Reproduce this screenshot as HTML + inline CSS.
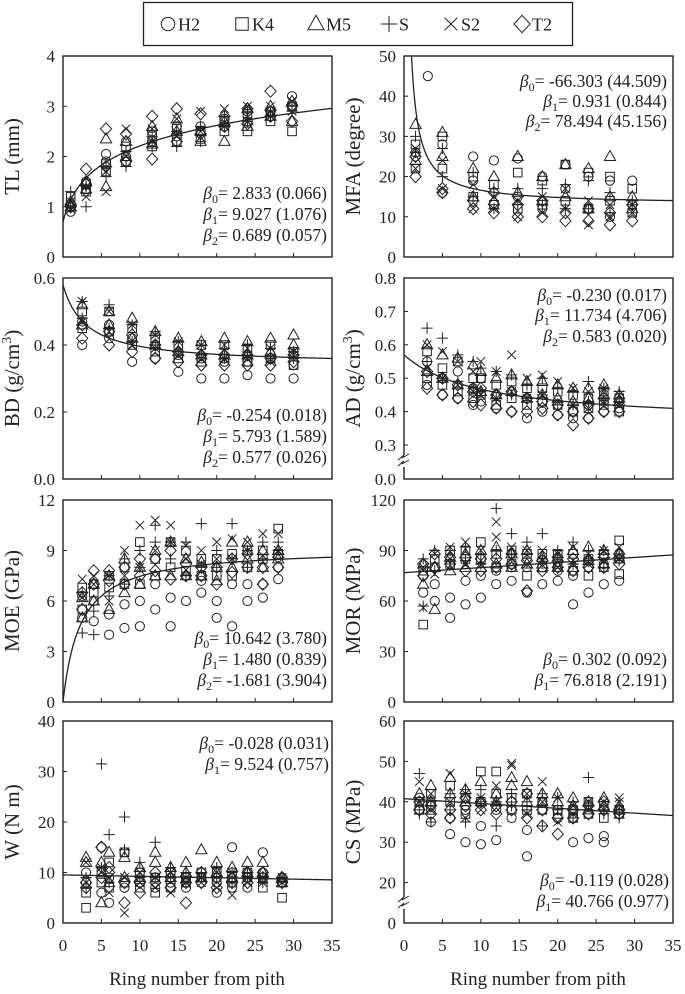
<!DOCTYPE html>
<html><head><meta charset="utf-8">
<style>
html,body{margin:0;padding:0;background:#fff;}
svg{display:block;}
svg, svg text, svg tspan{font-family:"Liberation Serif","DejaVu Serif","Times New Roman",serif;}
</style></head>
<body>
<svg id="fig" width="685" height="994" viewBox="0 0 685 994" xmlns="http://www.w3.org/2000/svg" font-family="'Liberation Serif', 'DejaVu Serif', serif">
<g id="legend">
  <rect x="143.5" y="2.5" width="429" height="43" fill="#fff" stroke="#222" stroke-width="1.3"/>
</g>
</svg>
<script>
// ---------- DATA ----------
const seriesNames = ["H2","K4","M5","S","S2","T2"];
const seriesMarkers = ["circle","square","triangle","plus","cross","diamond"];

const tlX = [1,3,5.6,8.2,11.6,14.8,17.9,21,24,27,29.8];
const tlH2 = [[0.9,1.05],[1.35,1.5],[1.9,2.05],[2.0,2.3],[2.3,2.5],[2.4,2.6],[2.5,2.6],[2.6,2.75],[2.7,2.9],[2.8,2.9],[3.0,3.2]];
const tlK4 = [[1.0,1.2],[1.3,1.45],[1.7,1.85],[1.9,2.2],[2.2,2.4],[2.3,2.55],[2.35,2.5],[2.5,2.7],[2.5,2.85],[2.7,2.9],[2.5,3.0]];
const tlM5 = [[1.0,1.1],[1.35,1.5],[1.4,2.35],[2.0,2.3],[2.25,2.6],[2.5,2.75],[2.3,2.5],[2.3,2.7],[2.6,2.95],[2.8,3.0],[2.7,3.1]];
const tlS  = [[1.0,1.3],[1.0,1.4],[1.6,1.8],[1.8,2.1],[2.2,2.4],[2.2,2.5],[2.3,2.6],[2.6,2.8],[2.7,2.9],[2.8,2.9],[2.9,3.0]];
const tlS2 = [[0.95,1.1],[1.2,1.4],[1.3,1.7],[2.0,2.55],[2.3,2.55],[2.4,2.75],[2.5,2.9],[2.6,2.95],[2.7,3.0],[2.8,3.0],[2.9,3.1]];
const tlT2 = [[1.0,1.05],[1.45,1.75],[1.8,2.55],[1.9,2.45],[1.95,2.8],[2.3,2.95],[2.45,2.85],[2.6,2.8],[2.65,2.95],[2.8,3.3],[2.7,3.0]];
const tlTicks = [0,1,2,3,4];

const mfaX = [1.5,5,9,11.7,14.8,18,21,24,26.8,29.7];
const mfaH2 = [[25,26],[16,28],[19,25],[13,24],[15,24.5],[12,20],[17,23],[12,20],[10,19],[13,19]];
const mfaK4 = [[28,22],[22,30],[15,20],[13,18],[12,21],[13,19],[14,23],[12,21],[14,20],[11,17]];
const mfaM5 = [[33,24],[25,31],[15,22],[14,20],[16,25],[14,20],[15,23],[12,22],[15,25],[12,15]];
const mfaS  = [[30,26],[20,27],[15,21],[12,17],[13,17],[13,17],[12,18],[12,19],[11,16],[13,14]];
const mfaS2 = [[22,27],[17,24],[12,18],[12,15],[10,14],[11,15],[12,17],[8,14],[10,13],[11,13]];
const mfaT2 = [[20,25],[16,17],[12,14],[11,16],[10,13],[10,14],[9,11],[9,12],[8,11],[9,13]];
const mfaOutlierX = [3.1];
const mfaOutlierY = [45];
const mfaTicks = [0,10,20,30,40,50];

const bdX = [2.5,6,9,12,15,18,21,24,27,30];
const bdH2 = [[0.40,0.47],[0.42,0.46],[0.35,0.42],[0.36,0.40],[0.32,0.37],[0.30,0.36],[0.30,0.35],[0.31,0.35],[0.30,0.36],[0.30,0.34]];
const bdK4 = [[0.45,0.50],[0.44,0.50],[0.40,0.45],[0.38,0.42],[0.36,0.40],[0.35,0.40],[0.36,0.40],[0.35,0.39],[0.36,0.40],[0.34,0.38]];
const bdM5 = [[0.46,0.52],[0.46,0.50],[0.42,0.48],[0.40,0.44],[0.38,0.42],[0.37,0.41],[0.37,0.42],[0.37,0.41],[0.38,0.42],[0.40,0.43]];
const bdS  = [[0.48,0.53],[0.45,0.52],[0.41,0.46],[0.40,0.44],[0.38,0.41],[0.37,0.40],[0.36,0.39],[0.37,0.40],[0.36,0.39],[0.36,0.38]];
const bdS2 = [[0.47,0.53],[0.44,0.50],[0.40,0.46],[0.39,0.43],[0.37,0.41],[0.36,0.40],[0.36,0.40],[0.36,0.39],[0.35,0.39],[0.37,0.38]];
const bdT2 = [[0.42,0.46],[0.40,0.44],[0.38,0.43],[0.36,0.40],[0.35,0.38],[0.34,0.37],[0.34,0.37],[0.34,0.37],[0.34,0.36],[0.35,0.37]];
const bdTicks = [0.0,0.2,0.4,0.6];

const adX = [3,5,7,9,10,12,14,16,18,20,22,24,26,28];
const adH2 = [[0.48,0.55],[0.45,0.50],[0.44,0.52],[0.42,0.47],[0.43,0.50],[0.41,0.45],[0.40,0.46],[0.38,0.44],[0.40,0.43],[0.39,0.42],[0.38,0.40],[0.38,0.42],[0.40,0.43],[0.41,0.44]];
const adK4 = [[0.50,0.58],[0.48,0.53],[0.46,0.55],[0.44,0.50],[0.45,0.50],[0.42,0.48],[0.44,0.49],[0.42,0.47],[0.43,0.47],[0.42,0.46],[0.40,0.45],[0.41,0.44],[0.42,0.46],[0.40,0.44]];
const adM5 = [[0.52,0.60],[0.50,0.57],[0.48,0.56],[0.47,0.54],[0.46,0.52],[0.45,0.50],[0.46,0.51],[0.44,0.49],[0.45,0.49],[0.44,0.48],[0.43,0.47],[0.44,0.47],[0.45,0.48],[0.43,0.45]];
const adS  = [[0.55,0.65],[0.50,0.62],[0.49,0.57],[0.47,0.55],[0.46,0.53],[0.44,0.52],[0.45,0.51],[0.44,0.48],[0.45,0.50],[0.42,0.47],[0.42,0.46],[0.43,0.49],[0.44,0.47],[0.43,0.46]];
const adS2 = [[0.53,0.60],[0.50,0.58],[0.48,0.55],[0.46,0.52],[0.45,0.55],[0.44,0.52],[0.46,0.57],[0.44,0.50],[0.45,0.51],[0.43,0.49],[0.42,0.47],[0.41,0.46],[0.43,0.47],[0.42,0.45]];
const adT2 = [[0.47,0.52],[0.45,0.50],[0.44,0.48],[0.43,0.46],[0.42,0.47],[0.41,0.45],[0.40,0.46],[0.40,0.44],[0.41,0.43],[0.39,0.42],[0.36,0.40],[0.38,0.42],[0.40,0.44],[0.40,0.43]];
const adTicks = [0.3,0.4,0.5,0.6,0.7,0.8];

const moeX = [2.5,4,6,8,10,12,14,16,18,20,22,24,26,28];
const moeH2 = [[5,6.3],[4.8,6],[4,5.2],[4.4,5.8],[4.5,6],[5.5,7],[4.5,6.2],[6,7.5],[6.5,7.2],[5,6],[4.5,7],[6,7],[6.2,7],[7.3,8]];
const moeK4 = [[5.5,6.8],[6.5,7],[6.8,7.5],[7,8],[7,9.5],[7.5,8.5],[8,9.5],[7.8,9],[7.5,8.5],[7.5,8.5],[7.5,8.8],[8,9],[8.5,9],[8.8,10.3]];
const moeM5 = [[5,6.2],[6,7],[5.5,7.5],[6.5,8.5],[7,8],[7.5,9],[7.5,9.5],[7.5,8.5],[7.5,8.3],[7.2,8],[8,9.5],[8.5,9.5],[8,9],[8.5,9]];
const moeS  = [[4.1,6.5],[4,5.4],[6.3,7.5],[7,8.5],[8,9],[9.5,10.5],[8.5,9.5],[7.5,9.5],[10.6,8],[8,9],[8.5,10.6],[8,9],[8.5,9.5],[9,9.5]];
const moeS2 = [[6.2,7.3],[7,7.5],[6,7.5],[7.5,9],[8,10.5],[9,10.8],[9.5,10.5],[8.5,9.3],[8.2,9],[8.5,9.5],[8.5,9.7],[9,9.5],[8.7,10],[9,10]];
const moeT2 = [[5.5,6.5],[7,7.8],[7.2,7.8],[7,8],[7.5,8.5],[7.8,8.5],[7.3,9],[7.5,8.2],[7.5,8],[7,8],[7.7,8.5],[8,8.8],[7,8],[8,8.6]];
const moeTicks = [0,3,6,9,12];

const morX = [2.5,4,6,8,10,12,14,16,18,20,22,24,26,28];
const morH2 = [[65,75],[60,70],[50,62],[58,72],[62,75],[70,78],[72,80],[65,80],[70,80],[72,78],[58,75],[65,80],[70,82],[72,85]];
const morK4 = [[46,78],[80,85],[82,90],[85,90],[85,95],[80,88],[82,90],[75,88],[80,88],[82,88],[78,88],[75,85],[80,88],[76,96]];
const morM5 = [[70,82],[55,80],[78,86],[80,88],[80,90],[82,92],[80,88],[82,90],[82,86],[80,86],[80,90],[84,92],[82,90],[85,88]];
const morS  = [[57,85],[78,90],[82,90],[84,92],[82,88],[115,90],[100,88],[88,95],[100,85],[86,90],[82,95],[85,90],[80,90],[84,88]];
const morS2 = [[56,80],[76,88],[85,92],[82,95],[84,90],[98,107],[85,92],[82,90],[84,90],[80,88],[84,92],[82,88],[84,90],[85,92]];
const morT2 = [[75,82],[80,88],[82,86],[78,86],[78,85],[80,85],[82,88],[66,84],[78,84],[80,86],[78,85],[80,84],[80,86],[82,88]];
const morTicks = [0,30,60,90,120];

const wX = [3,5,6,8,10,12,14,16,18,20,22,24,26,28.5];
const wH2 = [[10,8],[15,6],[9,4],[14,7],[8,10],[9,7],[8,10],[9,7],[8,9],[6,8],[15,7],[7,9],[10,14],[9,8]];
const wK4 = [[3,6],[8,10],[7,12],[8,14],[7,10],[6,9],[7,10],[8,9],[9,10],[9,10],[8,10],[9,10],[7,9],[5,8]];
const wM5 = [[12,13],[4,12],[14,8],[13,9],[11,9],[14,12],[11,9],[10,12],[14.5,9],[12,10],[9,11],[10,12],[12,10],[8,9]];
const wS  = [[7,9],[31.5,11],[17.5,8],[21,14.5],[12,9],[16,9],[9,11],[8,10],[9,10],[9,11],[10,8],[9,10],[8,9],[9,8]];
const wS2 = [[8,12],[10,11],[9,6],[2,9],[8,10],[7,9],[6,10],[9,8],[8,9],[7,10],[5.5,10],[8,9],[9,8],[8,9]];
const wT2 = [[7,8],[9,15],[10,11],[4,8],[6,8],[8,10],[7,9],[4,8],[8,10],[7,9],[8,9],[8,10],[9,10],[8,9]];
const wTicks = [0,10,20,30,40];

const csX = [2,3.5,6,8,10,12,14,16,18,20,22,24,26,28];
const csH2 = [[38,41],[35,40],[32,36],[30,38],[29.5,34],[30.5,38],[36,40],[26.5,33],[38,40],[38,36],[30,36],[31,37],[30,31.5],[37,38]];
const csK4 = [[38,40],[42,38],[44,40],[41,37],[47.5,40],[47.5,42],[38,41],[42,38],[40,38],[38,37],[38,36],[37,40],[36,39],[37,38]];
const csM5 = [[39,42],[44,40],[46,42],[40,43],[45,40],[42,40],[44,46],[45,40],[42,40],[40,42],[39,41],[38,40],[39,41],[38,39]];
const csS  = [[47,37],[35,40],[42,38],[35,43],[43,40],[34,40],[39,42],[40,38],[34,42],[38,41],[36,40],[46,39],[38,37],[36,38]];
const csS2 = [[40,45],[42,38],[47,40],[36,42],[41,38],[44,40],[49.5,49],[42,37],[45,40],[35,41],[37,39],[38,40],[40,38],[40,41]];
const csT2 = [[38,40],[37,39],[36,38],[39,41],[38,40],[37,39],[38,40],[36,42],[34,38],[32,36],[36,38],[37,39],[38,40],[38,37]];
const csTicks = [20,30,40,50,60];

const xTicks = [0,5,10,15,20,25,30,35];

// ---------- DRAW ----------
const NS = "http://www.w3.org/2000/svg";
const svg = document.getElementById("fig");
const INK = "#222";
const FONT = "'Liberation Serif', 'DejaVu Serif', 'Times New Roman', serif";
function el(tag, attrs, parent){
  const e = document.createElementNS(NS, tag);
  for (const k in attrs) e.setAttribute(k, attrs[k]);
  if (tag === "text") e.setAttribute("font-family", FONT);
  (parent||svg).appendChild(e);
  return e;
}

function marker(type, cx, cy, g, big){
  const s = big ? 1.45 : 1;
  let m;
  const st = {fill:"none", stroke:INK, "stroke-width":1};
  if (type==="circle") m = el("circle", Object.assign({cx:cx, cy:cy, r:4.6*s}, st), g);
  else if (type==="square") m = el("rect", Object.assign({x:cx-4.3*s, y:cy-4.3*s, width:8.6*s, height:8.6*s}, st), g);
  else if (type==="triangle") m = el("polygon", Object.assign({points:`${cx},${cy-6*s} ${cx-5.6*s},${cy+4*s} ${cx+5.6*s},${cy+4*s}`}, st), g);
  else if (type==="plus") m = el("path", Object.assign({d:`M${cx-5.6*s},${cy}H${cx+5.6*s}M${cx},${cy-5.6*s}V${cy+5.6*s}`}, st), g);
  else if (type==="cross") m = el("path", Object.assign({d:`M${cx-4.3*s},${cy-4.3*s}L${cx+4.3*s},${cy+4.3*s}M${cx+4.3*s},${cy-4.3*s}L${cx-4.3*s},${cy+4.3*s}`}, st), g);
  else m = el("polygon", Object.assign({points:`${cx},${cy-6*s} ${cx+5.6*s},${cy} ${cx},${cy+6*s} ${cx-5.6*s},${cy}`}, st), g);
  return m;
}

// legend
const legG = document.getElementById("legend");
const legSymX = [168,242,316,389,451,522];
seriesNames.forEach((n,i)=>{
  const item = el("g", {}, legG);
  
  
  marker(seriesMarkers[i], legSymX[i], 24, item, true);
  const t = el("text", {x:legSymX[i]+10, y:30.5, "font-size":18, fill:INK}, item);
  t.textContent = n;
});

function makePanel(cfg){
  const g = el("g", {});
  
  
  const X0 = cfg.x0, X1 = cfg.x0 + 269, Y0 = cfg.y0, Y1 = cfg.y0 + cfg.h;
  const xs = v => X0 + v * (X1 - X0) / 35;
  const ys = cfg.yScale(Y0, Y1);
  const cid = "clip-" + cfg.name;
  const cp = el("clipPath", {id:cid}, g);
  el("rect", {x:X0, y:Y0, width:X1-X0, height:Y1-Y0}, cp);

  const tg = el("g", {}, g);
  
  
  xTicks.forEach(v=>{
    el("line", {x1:xs(v), x2:xs(v), y1:Y1, y2:Y1-4, stroke:INK, "stroke-width":1}, tg);
    if (cfg.xLabels){
      const t = el("text", {x:xs(v), y:Y1+28, "font-size":17, "text-anchor":"middle", fill:INK}, tg);
      t.textContent = v;
    }
  });
  const yg = el("g", {}, g);
  
  
  cfg.yTicks.forEach(v=>{
    const y = ys(v);
    el("line", {x1:X0, x2:X0+4, y1:y, y2:y, stroke:INK, "stroke-width":1}, yg);
    const t = el("text", {x:X0-8, y:y+6, "font-size":17, "text-anchor":"end", fill:INK}, yg);
    t.textContent = cfg.fmt ? cfg.fmt(v) : v;
  });
  if (cfg.zeroLabel){
    const t = el("text", {x:X0-8, y:Y1+6, "font-size":17, "text-anchor":"end", fill:INK}, yg);
    t.textContent = cfg.zeroLabel;
  }
  const tt = el("text", {x:0, y:0, "font-size":21, "text-anchor":"middle", fill:INK,
    transform:`translate(${X0-cfg.titleOff},${(Y0+Y1)/2}) rotate(-90)`}, g);
  
  
  tt.innerHTML = cfg.title;

  const pg = el("g", {"clip-path":`url(#${cid})`}, g);
  cfg.series.forEach((arr, si)=>{
    const sg = el("g", {}, pg);
    
    
    arr.forEach((pair, ci)=>{
      pair.forEach(v=>{
        const m = marker(seriesMarkers[si], xs(cfg.xVals[ci]), ys(v), sg);
        
        
      });
    });
  });
  if (cfg.extra){
    cfg.extra.x.forEach((xv,i)=>{
      const m = marker(cfg.extra.type, xs(xv), ys(cfg.extra.y[i]), pg);
      
      
    });
  }
  let d = "";
  for (let i=0;i<=350;i++){
    const xv = cfg.curveStart + (35 - cfg.curveStart) * i / 350;
    d += (i ? "L" : "M") + xs(xv).toFixed(2) + "," + ys(cfg.fit(xv)).toFixed(2);
  }
  const c = el("path", {d:d, fill:"none", stroke:INK, "stroke-width":1.3, "clip-path":`url(#${cid})`}, g);
  
  

  const fr = el("rect", {x:X0, y:Y0, width:X1-X0, height:Y1-Y0, fill:"none", stroke:INK, "stroke-width":1.4}, g);
  
  

  if (cfg.breakAt){
    const by = cfg.breakAt;
    el("rect", {x:X0-5, y:by-6, width:10, height:12, fill:"#fff"}, g);
    el("path", {d:`M${X0-6},${by-1}L${X0},${by-6}L${X0-2},${by-3}L${X0+5},${by-7}M${X0-6},${by+5}L${X0},${by}L${X0-2},${by+3}L${X0+5},${by-1}`, fill:"none", stroke:INK, "stroke-width":1}, g);
  }
  const bg = el("g", {}, g);
  
  
  cfg.betas.forEach((b,i)=>{
    const t = el("text", {x:cfg.betaX, y:cfg.betaY[i], "font-size":17.5, "text-anchor":"end", fill:INK}, bg);
    t.innerHTML = `<tspan font-style="italic">β</tspan><tspan font-size="12" dy="4">${i}</tspan><tspan dy="-4">${b}</tspan>`;
  });
}

const L = 63, R = 404;
const rowsY = [56, 278, 500, 721];
const lin = (lo, hi) => (Y0, Y1) => v => Y1 - (v - lo) / (hi - lo) * (Y1 - Y0);

makePanel({name:"tl", x0:L, y0:rowsY[0], h:201, yScale:lin(0,4), yTicks:tlTicks, title:"TL (mm)", titleOff:44,
  xVals:tlX, series:[tlH2,tlK4,tlM5,tlS,tlS2,tlT2], curveStart:0,
  fit:x=>0.7+0.63*Math.log(1+x), betas:["= 2.833 (0.066)","= 9.027 (1.076)","=  0.689 (0.057)"],
  betaX:L+264, betaY:[199,220,241]});

makePanel({name:"mfa", x0:R, y0:rowsY[0], h:201, yScale:lin(0,50), yTicks:mfaTicks, title:"MFA (degree)", titleOff:44,
  xVals:mfaX, series:[mfaH2,mfaK4,mfaM5,mfaS,mfaS2,mfaT2], curveStart:0.3,
  extra:{type:"circle", x:mfaOutlierX, y:mfaOutlierY},
  fit:x=>13+36.1/x, betas:["= -66.303 (44.509)","= 0.931 (0.844)","=  78.494 (45.156)"],
  betaX:R+263, betaY:[87,107,127]});

makePanel({name:"bd", x0:L, y0:rowsY[1], h:201, yScale:lin(0,0.6), yTicks:bdTicks, title:"BD (g/cm<tspan font-size='14' dy='-8'>3</tspan><tspan dy='8'>)</tspan>", titleOff:44,
  fmt:v=>v.toFixed(1),
  xVals:bdX, series:[bdH2,bdK4,bdM5,bdS,bdS2,bdT2], curveStart:0,
  fit:x=>0.341+0.716/(x+3), betas:["= -0.254 (0.018)","= 5.793 (1.589)","=  0.577 (0.026)"],
  betaX:L+264, betaY:[421,442,463]});

const adScale = (Y0,Y1) => v => v >= 0.3 ? Y0 + (0.8 - v) / 0.1 * 33.4 : Y0 + 5*33.4 + (0.3 - v)/0.3*(Y1-Y0-5*33.4);
makePanel({name:"ad", x0:R, y0:rowsY[1], h:201, yScale:adScale, yTicks:adTicks, title:"AD (g/cm<tspan font-size='14' dy='-8'>3</tspan><tspan dy='8'>)</tspan>", titleOff:44,
  fmt:v=>v.toFixed(1), zeroLabel:"0.0", breakAt:461,
  xVals:adX, series:[adH2,adK4,adM5,adS,adS2,adT2], curveStart:0,
  fit:x=>0.364+2.06/(x+10), betas:["= -0.230 (0.017)","= 11.734 (4.706)","=  0.583 (0.020)"],
  betaX:R+263, betaY:[301,321,342]});

makePanel({name:"moe", x0:L, y0:rowsY[2], h:202, yScale:lin(0,12), yTicks:moeTicks, title:"MOE (GPa)", titleOff:44,
  xVals:moeX, series:[moeH2,moeK4,moeM5,moeS,moeS2,moeT2], curveStart:0,
  fit:x=>9.16*x/(2.27+x), betas:["= 10.642 (3.780)","= 1.480 (0.839)","=  -1.681 (3.904)"],
  betaX:L+264, betaY:[644,665,686]});

makePanel({name:"mor", x0:R, y0:rowsY[2], h:202, yScale:lin(0,120), yTicks:morTicks, title:"MOR (MPa)", titleOff:44,
  xVals:morX, series:[morH2,morK4,morM5,morS,morS2,morT2], curveStart:0,
  fit:x=>76.818+0.302*x, betas:["= 0.302 (0.092)","= 76.818 (2.191)"],
  betaX:R+263, betaY:[665,686]});

makePanel({name:"w", x0:L, y0:rowsY[3], h:202, yScale:lin(0,40), yTicks:wTicks, title:"W (N m)", titleOff:44, xLabels:true,
  xVals:wX, series:[wH2,wK4,wM5,wS,wS2,wT2], curveStart:0,
  fit:x=>9.524-0.028*x, betas:["= -0.028 (0.031)","= 9.524 (0.757)"],
  betaX:L+266, betaY:[749,770]});

const csScale = (Y0,Y1) => v => v >= 20 ? Y0 + (60 - v) / 10 * 40.4 : Y0 + 4*40.4 + (20 - v)/20*(Y1-Y0-4*40.4);
makePanel({name:"cs", x0:R, y0:rowsY[3], h:202, yScale:csScale, yTicks:csTicks, title:"CS (MPa)", titleOff:44, xLabels:true,
  zeroLabel:"0", breakAt:903,
  xVals:csX, series:[csH2,csK4,csM5,csS,csS2,csT2], curveStart:0,
  fit:x=>40.766-0.119*x, betas:["= -0.119 (0.028)","= 40.766 (0.977)"],
  betaX:R+265, betaY:[886,907]});

[[L,"left"],[R,"right"]].forEach(([x0,side])=>{
  const t = el("text", {x:x0+134, y:985, "font-size":19, "text-anchor":"middle", fill:INK});
  
  
  t.textContent = "Ring number from pith";
});
</script>
</body></html>
